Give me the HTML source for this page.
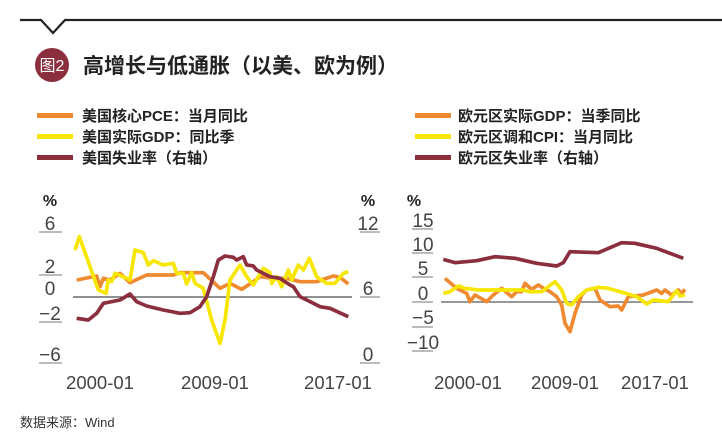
<!DOCTYPE html>
<html><head><meta charset="utf-8"><style>
body{margin:0;background:#fff;width:722px;height:445px;overflow:hidden;font-family:"Liberation Sans","Noto Sans CJK SC",sans-serif;}
</style></head><body>
<svg width="722" height="445" xmlns="http://www.w3.org/2000/svg" style="position:absolute;left:0;top:0" font-family="Liberation Sans, Noto Sans CJK SC, sans-serif">
<polyline points="20,20 41,20 53,33 65,20 722,20" fill="none" stroke="#222" stroke-width="2.2"/>
<circle cx="52" cy="65" r="17" fill="#8b2e3e"/>
<text x="52" y="71" fill="#fff" font-size="16" text-anchor="middle">图2</text>
<text x="83" y="73" fill="#222" font-size="21" font-weight="bold">高增长与低通胀（以美、欧为例）</text>
<g font-size="15" font-weight="bold" fill="#222">
<rect x="37" y="113" width="36" height="5" fill="#f08a30"/><text x="82" y="121">美国核心PCE：当月同比</text>
<rect x="37" y="134" width="36" height="5" fill="#f7e600"/><text x="82" y="142">美国实际GDP：同比季</text>
<rect x="37" y="155" width="36" height="5" fill="#8b2e3e"/><text x="82" y="163">美国失业率（右轴）</text>
<rect x="415" y="113" width="36" height="5" fill="#f08a30"/><text x="458" y="121">欧元区实际GDP：当季同比</text>
<rect x="415" y="134" width="36" height="5" fill="#f7e600"/><text x="458" y="142">欧元区调和CPI：当月同比</text>
<rect x="415" y="155" width="36" height="5" fill="#8b2e3e"/><text x="458" y="163">欧元区失业率（右轴）</text>
</g>
<g font-size="19" fill="#444" text-anchor="middle">
<text x="50" y="206" font-weight="bold" font-size="16" fill="#222">%</text>
<text x="50" y="230">6</text><text x="50" y="273">2</text><text x="50" y="295">0</text><text x="50" y="320">−2</text><text x="50" y="361">−6</text>
<text x="368" y="206" font-weight="bold" font-size="16" fill="#222">%</text>
<text x="368" y="230">12</text><text x="368" y="295">6</text><text x="368" y="361">0</text>
<text x="100" y="389" font-size="18.5">2000-01</text><text x="215" y="389" font-size="18.5">2009-01</text><text x="338" y="389" font-size="18.5">2017-01</text>
<text x="414" y="206" font-weight="bold" font-size="16" fill="#222">%</text>
<text x="423" y="227">15</text><text x="423" y="251">10</text><text x="423" y="275">5</text><text x="423" y="300">0</text><text x="423" y="324">−5</text><text x="423" y="349">−10</text>
<text x="468" y="389" font-size="18.5">2000-01</text><text x="565" y="389" font-size="18.5">2009-01</text><text x="655" y="389" font-size="18.5">2017-01</text>
</g>
<g stroke="#777" stroke-width="1">
<line x1="39" x2="62" y1="232" y2="232"/><line x1="39" x2="62" y1="275" y2="275"/><line x1="39" x2="62" y1="322" y2="322"/><line x1="39" x2="62" y1="363" y2="363"/>
<line x1="360" x2="380" y1="232" y2="232"/><line x1="360" x2="380" y1="297" y2="297"/><line x1="360" x2="380" y1="363" y2="363"/>
<line x1="412" x2="433" y1="229" y2="229"/><line x1="412" x2="433" y1="253" y2="253"/><line x1="412" x2="433" y1="277" y2="277"/><line x1="412" x2="433" y1="302" y2="302"/><line x1="412" x2="433" y1="327" y2="327"/><line x1="412" x2="433" y1="351" y2="351"/>
</g>
<line x1="73" x2="352" y1="297" y2="297" stroke="#222" stroke-width="1"/>
<line x1="441" x2="693" y1="302" y2="302" stroke="#777" stroke-width="1.5"/>
<g transform="translate(20,180) scale(0.33333)" fill="none" stroke-width="11" stroke-linejoin="round">
<polyline stroke="#f08a30" points="170,300 230,288 240,320 250,295 270,300 300,280 330,308 380,285 460,285 480,278 550,278 600,325 630,310 665,328 700,305 720,290 760,295 800,295 840,305 890,305 940,288 960,292 985,312"/>
<polyline stroke="#f7e600" points="165,210 178,170 210,260 235,330 258,340 265,300 275,305 285,280 320,295 330,300 345,210 370,218 385,255 400,242 430,255 460,250 470,280 490,280 500,312 515,278 525,310 550,325 575,420 600,490 615,420 630,300 660,255 680,290 700,315 730,265 750,278 755,310 770,290 785,320 805,270 815,300 835,255 850,270 868,235 890,290 920,310 945,310 970,280 985,275"/>
<polyline stroke="#8b2e3e" points="170,415 205,420 230,400 250,370 300,360 330,342 350,365 380,378 430,390 480,400 510,398 540,380 560,350 580,290 595,240 615,228 640,232 650,240 670,230 680,255 700,258 710,270 730,280 750,290 780,295 810,315 820,320 840,350 900,380 930,385 985,410"/>
</g>
<g transform="translate(390,180) scale(0.33333)" fill="none" stroke-width="11" stroke-linejoin="round">
<polyline stroke="#8b2e3e" points="160,238 195,248 260,242 315,230 375,235 440,250 500,258 520,248 540,215 625,218 695,188 735,190 800,205 880,235"/>
<polyline stroke="#f08a30" points="165,295 200,325 230,340 240,365 255,345 290,365 310,345 335,325 365,350 380,335 395,335 405,310 425,328 445,315 460,325 480,335 500,350 515,375 525,430 540,455 555,400 575,345 590,330 615,325 630,360 660,380 685,378 695,390 715,350 760,345 800,330 815,340 825,330 845,345 865,330 875,340 885,328"/>
<polyline stroke="#f7e600" points="160,340 180,335 205,318 225,325 265,330 330,330 400,330 420,335 455,335 475,320 495,305 515,330 530,370 545,375 565,350 590,330 625,322 655,325 700,338 740,350 770,372 790,360 835,365 860,332 870,348 885,345"/>
</g>
<text x="20" y="427" font-size="13" fill="#333">数据来源：Wind</text>
</svg>
</body></html>
